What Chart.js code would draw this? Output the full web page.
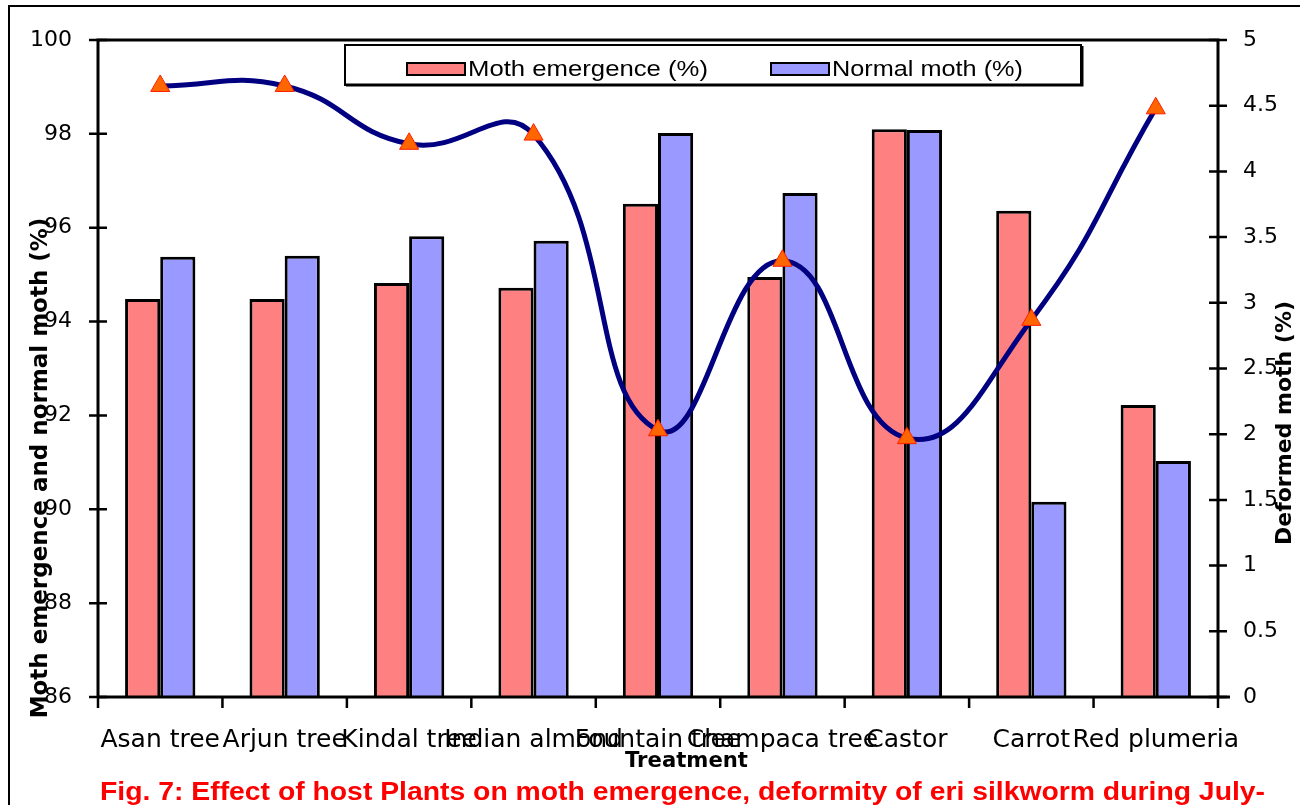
<!DOCTYPE html>
<html>
<head>
<meta charset="utf-8">
<script src="https://cdn.jsdelivr.net/npm/chart.js@4.4.1/dist/chart.umd.min.js"></script>
<style>
  html, body { margin: 0; padding: 0; background: #fff; }
  #wrap { width: 1304px; height: 805px; position: relative; }
</style>
</head>
<body>
<div id="wrap"><canvas id="c" width="1304" height="805"></canvas></div>
<script>
const categories = ['Asan tree', 'Arjun tree', 'Kindal tree', 'Indian almond', 'Fountain tree', 'Champaca tree', 'Castor', 'Carrot', 'Red plumeria'];
const mothEmergence = [94.48, 94.48, 94.82, 94.72, 96.51, 94.95, 98.10, 96.36, 92.22];
const normalMoth = [95.38, 95.40, 95.82, 95.72, 98.02, 96.74, 98.08, 90.16, 91.03];
const deformedMoth = [4.65, 4.65, 4.21, 4.28, 2.03, 3.32, 1.97, 2.87, 4.48];
const seriesNames = ['Moth emergence (%)', 'Normal moth (%)', 'Deformed moth (%)'];
const leftTitle = 'Moth emergence and normal moth (%)';
const rightTitle = 'Deformed moth (%)';
const xTitle = 'Treatment';
const caption = 'Fig. 7: Effect of host Plants on moth emergence, deformity of eri silkworm during July-';

const PINK = '#FF8080', BLUE = '#9999FF';

function fitText(ctx, text, x, y, width) {
  const w = ctx.measureText(text).width;
  ctx.save(); ctx.translate(x, y); ctx.scale(width / w, 1); ctx.fillText(text, 0, 0); ctx.restore();
}

const decor = {
  id: 'decor',
  afterDatasetsDraw(chart) {
    const ctx = chart.ctx;
    ctx.save();
    // legend box
    ctx.fillStyle = '#fff';
    ctx.fillRect(345, 45, 736, 40);
    ctx.strokeStyle = '#000';
    ctx.lineWidth = 2;
    ctx.strokeRect(345, 45, 736, 40);
    ctx.lineWidth = 3;
    ctx.beginPath(); ctx.moveTo(346, 85); ctx.lineTo(1082, 85); ctx.lineTo(1082, 46); ctx.stroke();
    const items = [[407, PINK, seriesNames[0], 240], [771, BLUE, seriesNames[1], 191]];
    ctx.font = '22px "Liberation Sans"';
    ctx.textBaseline = 'middle';
    ctx.textAlign = 'left';
    items.forEach(([x, col, label, tw]) => {
      ctx.fillStyle = col;
      ctx.fillRect(x, 63, 58, 12);
      ctx.lineWidth = 2;
      ctx.strokeStyle = '#000';
      ctx.strokeRect(x, 63, 58, 12);
      ctx.fillStyle = '#000';
      fitText(ctx, label, x + 61, 70, tw);
    });
    ctx.restore();
  },
  afterDraw(chart) {
    const ctx = chart.ctx, a = chart.chartArea;
    const xs = chart.scales.x, yl = chart.scales.y, yr = chart.scales.y1;
    ctx.save();
    ctx.strokeStyle = '#000';
    // outer frame
    ctx.lineWidth = 2;
    ctx.beginPath(); ctx.moveTo(9, 805); ctx.lineTo(9, 6); ctx.lineTo(1300, 6); ctx.stroke();
    // plot borders / axes
    ctx.lineWidth = 3;
    ctx.beginPath();
    ctx.moveTo(a.left, a.bottom); ctx.lineTo(a.left, a.top); ctx.lineTo(a.right, a.top); ctx.lineTo(a.right, a.bottom);
    ctx.moveTo(a.left - 1, a.bottom); ctx.lineTo(a.right + 12, a.bottom);
    ctx.stroke();
    // ticks
    ctx.lineWidth = 2.5;
    ctx.beginPath();
    yl.ticks.forEach(t => { const y = yl.getPixelForValue(t.value); ctx.moveTo(a.left - 9, y); ctx.lineTo(a.left + 9, y); });
    yr.ticks.forEach(t => { const y = yr.getPixelForValue(t.value); ctx.moveTo(a.right - 9, y); ctx.lineTo(a.right + 9, y); });
    for (let i = 0; i <= categories.length; i++) {
      const x = xs.getPixelForValue(i - 0.5);
      ctx.moveTo(x, a.bottom); ctx.lineTo(x, a.bottom + 11);
    }
    ctx.stroke();
    // titles
    ctx.fillStyle = '#000';
    ctx.textAlign = 'center';
    ctx.textBaseline = 'middle';
    ctx.font = 'bold 23px "DejaVu Sans"';
    ctx.save(); ctx.translate(41, 468); ctx.rotate(-Math.PI / 2); ctx.fillText(leftTitle, 0, 0); ctx.restore();
    ctx.font = 'bold 22px "DejaVu Sans"';
    ctx.save(); ctx.translate(1285, 423); ctx.rotate(-Math.PI / 2); ctx.fillText(rightTitle, 0, 0); ctx.restore();
    ctx.textBaseline = 'alphabetic';
    ctx.font = 'bold 22px "DejaVu Sans"';
    ctx.textAlign = 'left';
    fitText(ctx, xTitle, 625, 767, 123);
    // caption
    ctx.fillStyle = '#FF0000';
    ctx.font = 'bold 25px "Liberation Sans"';
    fitText(ctx, caption, 100, 800, 1165);
    ctx.restore();
  }
};

new Chart(document.getElementById('c'), {
  type: 'bar',
  data: {
    labels: categories,
    datasets: [
      {
        type: 'line', label: seriesNames[2], data: deformedMoth, yAxisID: 'y1', order: 0,
        borderColor: '#000080', borderWidth: 5, tension: 0.47, fill: false,
        pointStyle: 'triangle', pointRadius: 11, pointBackgroundColor: '#FF6600',
        pointBorderColor: '#FF2000', pointBorderWidth: 1
      },
      {
        label: seriesNames[0], data: mothEmergence, yAxisID: 'y', order: 1, base: 86,
        backgroundColor: PINK, borderColor: '#000', borderWidth: 3,
        categoryPercentage: 0.565, barPercentage: 1.0
      },
      {
        label: seriesNames[1], data: normalMoth, yAxisID: 'y', order: 1, base: 86,
        backgroundColor: BLUE, borderColor: '#000', borderWidth: 3,
        categoryPercentage: 0.565, barPercentage: 1.0
      }
    ]
  },
  options: {
    responsive: false,
    animation: false,
    layout: { padding: { top: 40, left: 0, right: 0, bottom: 0 } },
    plugins: { legend: { display: false }, tooltip: { enabled: false } },
    scales: {
      x: {
        grid: { display: false, drawTicks: false },
        border: { display: false },
        ticks: { autoSkip: false, maxRotation: 0, minRotation: 0, color: '#000', padding: 28,
                 font: { family: 'DejaVu Sans', size: 25 } },
        afterFit(s) { s.height = 108; }
      },
      y: {
        position: 'left', min: 86, max: 100,
        grid: { display: false, drawTicks: false },
        border: { display: false },
        ticks: { stepSize: 2, color: '#000', padding: 26, font: { family: 'DejaVu Sans', size: 22 } },
        afterFit(s) { s.width = 98; }
      },
      y1: {
        position: 'right', min: 0, max: 5,
        grid: { display: false, drawTicks: false },
        border: { display: false },
        ticks: { stepSize: 0.5, color: '#000', padding: 25, font: { family: 'DejaVu Sans', size: 22 },
                 callback: v => String(v) },
        afterFit(s) { s.width = 86; }
      }
    }
  },
  plugins: [decor]
});
</script>
</body>
</html>
